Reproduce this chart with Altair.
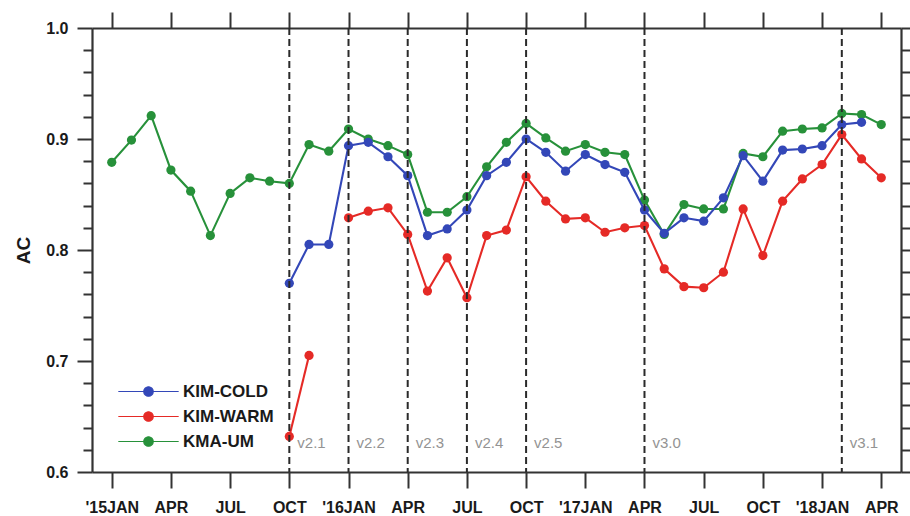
import altair as alt
import pandas as pd

# Month index: 0 = Jan 2015 ... 39 = Apr 2018
tick_months = list(range(0, 40, 3))
tick_labels = ["'15JAN", "APR", "JUL", "OCT", "'16JAN", "APR", "JUL", "OCT",
               "'17JAN", "APR", "JUL", "OCT", "'18JAN", "APR"]

# KMA-UM, Jan 2015 - Apr 2018
kma_um_months = list(range(0, 40))
kma_um = [0.879, 0.899, 0.921, 0.872, 0.853, 0.813, 0.851, 0.865, 0.862, 0.860,
          0.895, 0.889, 0.909, 0.900, 0.894, 0.886, 0.834, 0.834, 0.848, 0.875,
          0.897, 0.914, 0.901, 0.889, 0.895, 0.888, 0.886, 0.845, 0.814, 0.841,
          0.837, 0.837, 0.887, 0.884, 0.907, 0.909, 0.910, 0.923, 0.922, 0.913]

# KIM-COLD, Oct 2015 - Mar 2018
kim_cold_months = list(range(9, 39))
kim_cold = [0.770, 0.805, 0.805, 0.894, 0.897, 0.884, 0.867, 0.813, 0.819, 0.836,
            0.867, 0.879, 0.900, 0.888, 0.871, 0.886, 0.877, 0.870, 0.836, 0.815,
            0.829, 0.826, 0.847, 0.885, 0.862, 0.890, 0.891, 0.894, 0.913, 0.915]

# KIM-WARM, Oct-Nov 2015, then Jan 2016 - Apr 2018
kim_warm_months = [9, 10] + list(range(12, 40))
kim_warm_segment = [0, 0] + [1] * 28
kim_warm = [0.632, 0.705,
            0.829, 0.835, 0.838, 0.814, 0.763, 0.793, 0.757, 0.813, 0.818, 0.866,
            0.844, 0.828, 0.829, 0.816, 0.820, 0.822, 0.783, 0.767, 0.766, 0.780,
            0.837, 0.795, 0.844, 0.864, 0.877, 0.904, 0.882, 0.865]

# Model version upgrades
version_months = [9, 12, 15, 18, 21, 27, 37]
version_names = ["v2.1", "v2.2", "v2.3", "v2.4", "v2.5", "v3.0", "v3.1"]

y_ticks = [round(0.6 + 0.02 * i, 2) for i in range(21)]

series_names = ["KIM-COLD", "KIM-WARM", "KMA-UM"]
series_colors = ["#3347b8", "#e52a26", "#27913a"]

rows = []
for m, v in zip(kma_um_months, kma_um):
    rows.append({"month": m, "ac": v, "model": "KMA-UM", "seg": 0})
for m, v in zip(kim_cold_months, kim_cold):
    rows.append({"month": m, "ac": v, "model": "KIM-COLD", "seg": 0})
for m, v, s in zip(kim_warm_months, kim_warm, kim_warm_segment):
    rows.append({"month": m, "ac": v, "model": "KIM-WARM", "seg": s})
df = pd.DataFrame(rows)

versions = pd.DataFrame({"month": version_months, "name": version_names})

FONT = "Liberation Sans"
AXC = "#333333"
TXT = "#1a1a1a"
label_list = "[" + ",".join('"' + t + '"' for t in tick_labels) + "]"
major = "abs(datum.value * 10 - round(datum.value * 10)) < 0.001"

x_scale = alt.Scale(domain=[-1, 40], nice=False, zero=False)
y_scale = alt.Scale(domain=[0.6, 1.0], nice=False, zero=False)

common_axis = dict(grid=False, domainColor=AXC, domainWidth=2.2, tickColor=AXC,
                   tickWidth=2, labelFont=FONT, labelFontSize=16,
                   labelFontWeight="bold", labelColor=TXT)

x_bottom = alt.Axis(orient="bottom", values=tick_months, tickSize=16, labelPadding=11,
                    labelExpr=label_list + "[round(datum.value / 3)]", title=None,
                    labelFlush=False, **common_axis)
x_top = alt.Axis(orient="top", values=tick_months, tickSize=16, labels=False,
                 title=None, **common_axis)
y_left = alt.Axis(orient="left", values=y_ticks,
                  tickSize={"condition": {"test": major, "value": 15}, "value": 9},
                  labelExpr=major + " ? format(datum.value, '.1f') : ''",
                  labelOverlap=False, labelPadding=9, title="AC", titleFont=FONT,
                  titleFontSize=19, titleFontWeight="bold", titleColor=TXT,
                  titlePadding=12, **common_axis)
y_right = alt.Axis(orient="right", values=y_ticks,
                   tickSize={"condition": {"test": major, "value": 15}, "value": 9},
                   labels=False, title=None, **common_axis)

legend_symbol = ("M-5.4,0H5.4M-0.85,0A0.85,0.85,0,1,0,0.85,0"
                 "A0.85,0.85,0,1,0,-0.85,0Z")
color = alt.Color(
    "model:N",
    scale=alt.Scale(domain=series_names, range=series_colors),
    legend=alt.Legend(orient="none", legendX=48, legendY=355, title=None,
                      symbolType=legend_symbol, symbolSize=125, symbolStrokeWidth=1.2,
                      labelFont=FONT, labelFontSize=17, labelFontWeight="bold",
                      labelColor=TXT, labelOffset=26, rowPadding=7, padding=0),
)

base = alt.Chart(df)
layers = []
first = True
for name in ["KMA-UM", "KIM-WARM", "KIM-COLD"]:
    sub = base.transform_filter(alt.datum.model == name)
    line = sub.mark_line(strokeWidth=2.1).encode(
        x=alt.X("month:Q", scale=x_scale, axis=x_bottom if first else None),
        y=alt.Y("ac:Q", scale=y_scale, axis=y_left if first else None),
        color=color,
        detail="seg:N",
        order="month:Q",
    )
    pts = sub.mark_circle(size=85, opacity=1).encode(
        x=alt.X("month:Q", scale=x_scale, axis=x_top if first else None),
        y=alt.Y("ac:Q", scale=y_scale, axis=y_right if first else None),
        color=color,
    )
    layers += [line, pts]
    first = False

rules = alt.Chart(versions).mark_rule(color="#2a2a2a", strokeWidth=2,
                                      strokeDash=[7, 4]).encode(
    x=alt.X("month:Q", scale=x_scale, axis=None)
)
tags = alt.Chart(versions).mark_text(align="left", baseline="middle", dx=8,
                                     font=FONT, fontSize=15, color="#939393").encode(
    x=alt.X("month:Q", scale=x_scale, axis=None),
    y=alt.YDatum(0.626, scale=y_scale, axis=None),
    text="name:N",
)

chart = (
    alt.layer(*layers, rules, tags)
    .resolve_axis(x="independent", y="independent")
    .properties(
        width=809,
        height=444,
        autosize=alt.AutoSizeParams(type="none"),
        padding={"left": 92, "top": 28, "right": 9, "bottom": 44},
        background="white",
    )
    .configure_view(stroke=None)
)

chart.save("out.html", embed_options={"renderer": "svg", "actions": False})
